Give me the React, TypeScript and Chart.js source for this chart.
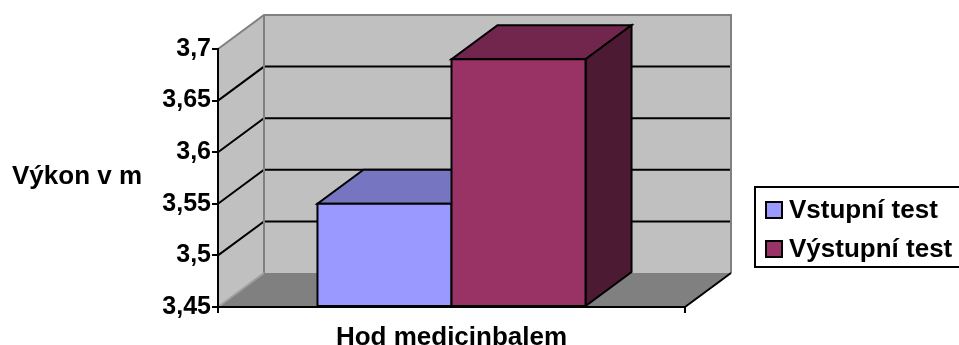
import React, { useEffect, useRef } from "react";
import { Chart, registerables } from "chart.js";

Chart.register(...registerables);

// ---- data ----
const categories = ["Hod medicinbalem"];
const seriesNames = ["Vstupní test", "Výstupní test"];
const vstupniTest = [3.55];
const vystupniTest = [3.69];
const yTicks = [3.45, 3.5, 3.55, 3.6, 3.65, 3.7];
const yAxisTitle = "Výkon v m";

// ---- styles ----
const FONT = "'Liberation Sans', Arial, Helvetica, sans-serif";
const DX = 46;
const DY = -34;
const frontColors = ["#9999FF", "#993366"];
const topColors = ["#7575C2", "#73264D"];
const sideColors = ["#4D4D80", "#4D1A33"];

function poly(ctx: CanvasRenderingContext2D, pts: number[][], fill?: string, stroke?: string, lw = 2) {
  ctx.beginPath();
  ctx.moveTo(pts[0][0], pts[0][1]);
  for (let i = 1; i < pts.length; i++) ctx.lineTo(pts[i][0], pts[i][1]);
  ctx.closePath();
  if (fill) {
    ctx.fillStyle = fill;
    ctx.fill();
  }
  if (stroke) {
    ctx.strokeStyle = stroke;
    ctx.lineWidth = lw;
    ctx.lineJoin = "miter";
    ctx.stroke();
  }
}

function line(ctx: CanvasRenderingContext2D, pts: number[][], color: string, lw = 2) {
  ctx.beginPath();
  ctx.moveTo(pts[0][0], pts[0][1]);
  for (let i = 1; i < pts.length; i++) ctx.lineTo(pts[i][0], pts[i][1]);
  ctx.strokeStyle = color;
  ctx.lineWidth = lw;
  ctx.stroke();
}

const threeD = {
  id: "threeD",
  beforeDraw(chart: any) {
    const ctx: CanvasRenderingContext2D = chart.ctx;
    const { left, right, top, bottom } = chart.chartArea;
    const ys = chart.scales.y;
    ctx.save();
    // back wall
    poly(ctx, [[left + DX, top + DY], [right + DX, top + DY], [right + DX, bottom + DY], [left + DX, bottom + DY]], "#C0C0C0");
    // left wall
    poly(ctx, [[left, top], [left + DX, top + DY], [left + DX, bottom + DY], [left, bottom]], "#C0C0C0");
    // floor
    poly(ctx, [[left, bottom], [left + DX, bottom + DY], [right + DX, bottom + DY], [right, bottom]], "#808080");
    // gridlines
    yTicks.forEach((v) => {
      if (v <= ys.min || v >= ys.max) return;
      const py = ys.getPixelForValue(v);
      line(ctx, [[left, py], [left + DX, py + DY], [right + DX, py + DY]], "#000", 2);
    });
    // grey edges
    line(ctx, [[left, top], [left + DX, top + DY], [right + DX, top + DY], [right + DX, bottom + DY]], "#808080", 2);
    line(ctx, [[left + DX, top + DY], [left + DX, bottom + DY]], "#808080", 2);
    line(ctx, [[left, bottom], [left + DX, bottom + DY]], "#A0A0A0", 2);
    // floor right edge
    line(ctx, [[right, bottom], [right + DX, bottom + DY]], "#000", 2);
    ctx.restore();
  },
  afterDatasetsDraw(chart: any) {
    const ctx: CanvasRenderingContext2D = chart.ctx;
    const bottom = chart.chartArea.bottom;
    ctx.save();
    chart.data.datasets.forEach((ds: any, i: number) => {
      const meta = chart.getDatasetMeta(i);
      meta.data.forEach((el: any) => {
        const p = el.getProps(["x", "y", "base", "width"], true);
        const x = p.x;
        const y = p.y;
        const base = Math.min(p.base, bottom);
        const l = x - p.width / 2;
        const r = x + p.width / 2;
        poly(ctx, [[l, y], [r, y], [r + DX, y + DY], [l + DX, y + DY]], topColors[i], "#000", 2);
        poly(ctx, [[r, y], [r + DX, y + DY], [r + DX, base + DY], [r, base]], sideColors[i], "#000", 2);
        poly(ctx, [[l, y], [r, y], [r, base], [l, base]], frontColors[i], "#000", 2);
      });
    });
    ctx.restore();
  },
  afterDraw(chart: any) {
    const ctx: CanvasRenderingContext2D = chart.ctx;
    ctx.save();
    ctx.font = `bold 26px ${FONT}`;
    ctx.fillStyle = "#000";
    ctx.textBaseline = "alphabetic";
    ctx.textAlign = "left";
    ctx.fillText(yAxisTitle, 12, 184);

    // legend
    ctx.strokeStyle = "#000";
    ctx.lineWidth = 2;
    ctx.strokeRect(755, 187, 220, 80);
    chart.data.datasets.forEach((ds: any, i: number) => {
      const base = 218 + i * 39;
      ctx.fillStyle = ds.backgroundColor;
      ctx.fillRect(766, base - 16, 16, 16);
      ctx.strokeStyle = "#000";
      ctx.lineWidth = 2;
      ctx.strokeRect(766, base - 16, 16, 16);
      ctx.fillStyle = "#000";
      ctx.fillText(ds.label, 789, base);
    });
    ctx.restore();
  },
};

export default function App() {
  const ref = useRef<HTMLCanvasElement | null>(null);
  useEffect(() => {
    if (!ref.current) return;
    const tickFont = { family: FONT, size: 25, weight: "bold" as const };
    const chart = new Chart(ref.current, {
      type: "bar",
      data: {
        labels: categories,
        datasets: [
          {
            label: seriesNames[0],
            data: vstupniTest,
            base: yTicks[0],
            backgroundColor: frontColors[0],
            borderColor: "#000",
            borderWidth: 0,
            barPercentage: 1,
            categoryPercentage: 0.574,
          } as any,
          {
            label: seriesNames[1],
            data: vystupniTest,
            base: yTicks[0],
            backgroundColor: frontColors[1],
            borderColor: "#000",
            borderWidth: 0,
            barPercentage: 1,
            categoryPercentage: 0.574,
          } as any,
        ],
      },
      options: {
        responsive: false,
        animation: false,
        devicePixelRatio: 1,
        layout: { padding: { left: 150, right: 274, top: 49, bottom: 0 } },
        plugins: { legend: { display: false }, tooltip: { enabled: false } },
        scales: {
          x: {
            grid: { drawOnChartArea: false, drawTicks: true, tickLength: 6, color: "#000", lineWidth: 2, offset: true },
            border: { display: true, color: "#000", width: 2 },
            ticks: { font: { family: FONT, size: 26, weight: "bold" }, color: "#000", padding: 9, maxRotation: 0, autoSkip: false },
            afterFit: (s: any) => {
              s.height = 38;
            },
          },
          y: {
            min: yTicks[0],
            max: yTicks[yTicks.length - 1],
            grid: { drawOnChartArea: false, drawTicks: true, tickLength: 6, color: "#000", lineWidth: 2 },
            border: { display: true, color: "#000", width: 2 },
            ticks: {
              font: tickFont,
              color: "#000",
              padding: 1,
              callback: (v: any) => String(v).replace(".", ","),
            },
            afterBuildTicks: (s: any) => {
              s.ticks = yTicks.map((v) => ({ value: v }));
            },
            afterFit: (s: any) => {
              s.width = 68;
            },
          },
        },
      },
      plugins: [threeD],
    });
    return () => chart.destroy();
  }, []);
  return (
    <div style={{ position: "absolute", left: 0, top: 0, width: 959, height: 345, background: "#fff" }}>
      <canvas ref={ref} width={959} height={345} style={{ display: "block" }} />
    </div>
  );
}
